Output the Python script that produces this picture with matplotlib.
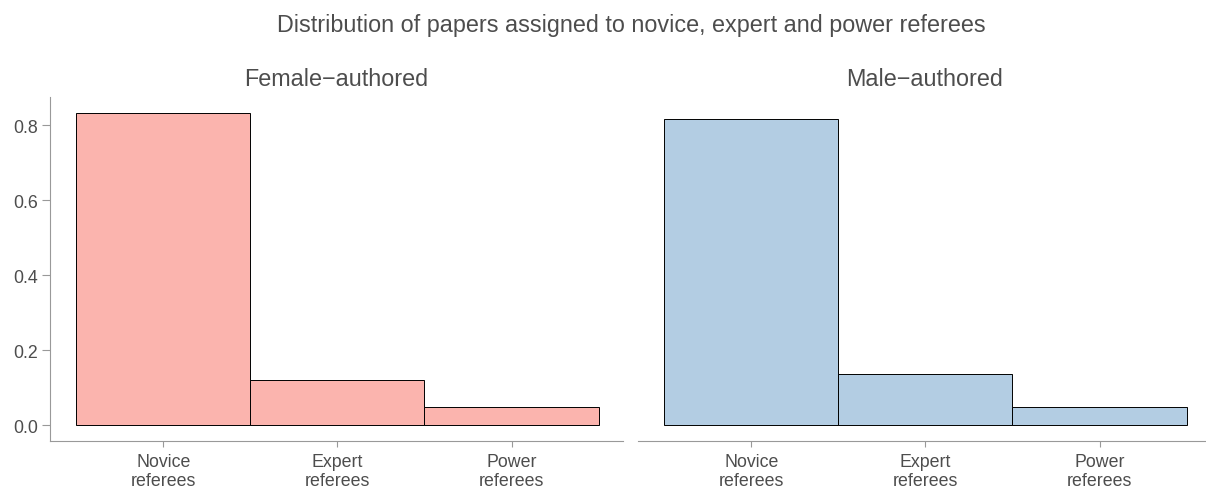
import matplotlib
matplotlib.use("Agg")
import matplotlib.pyplot as plt

plt.rcParams['font.family'] = ['Liberation Sans', 'DejaVu Sans']

categories = ["Novice\nreferees", "Expert\nreferees", "Power\nreferees"]
panels = ["Female\u2212authored", "Male\u2212authored"]
female_share = [0.832, 0.120, 0.048]
male_share = [0.816, 0.137, 0.047]
colors = ["#FBB4AE", "#B3CDE3"]
title = "Distribution of papers assigned to novice, expert and power referees"

text_col = "#4D4D4D"
axis_col = "#999999"

fig = plt.figure(figsize=(12.06, 4.89), dpi=100)
ax1 = fig.add_axes([50/1206, 1-441.7/489, 573/1206, (441.7-98.4)/489])
ax2 = fig.add_axes([638/1206, 1-441.7/489, 573/1206, (441.7-98.4)/489])

xs = [1, 2, 3]
for ax, vals, col, name in [(ax1, female_share, colors[0], panels[0]),
                            (ax2, male_share, colors[1], panels[1])]:
    ax.bar(xs, vals, width=1.0, color=col, edgecolor="black", linewidth=0.7)
    ax.set_xlim(0.35, 3.64)
    ax.set_ylim(-0.0416, 0.874)
    ax.set_xticks(xs)
    ax.set_xticklabels(categories, fontsize=12.8, color=text_col, linespacing=1.2)
    for s in ["top", "right"]:
        ax.spines[s].set_visible(False)
    ax.spines["bottom"].set_color(axis_col)
    ax.spines["left"].set_color(axis_col)
    ax.tick_params(axis="x", color=axis_col, length=4.5, width=0.8, pad=4)
    ax.tick_params(axis="y", color=axis_col, length=5.5, width=0.8, pad=3,
                   labelsize=12.8, labelcolor=text_col)
    ax.set_title(name, fontsize=16.8, color=text_col, pad=9)

ax1.set_yticks([0.0, 0.2, 0.4, 0.6, 0.8])
ax1.set_yticklabels(["0.0", "0.2", "0.4", "0.6", "0.8"])
ax2.spines["left"].set_visible(False)
ax2.set_yticks([])

fig.text(631.5/1206, 1-25.5/489, title, ha="center", va="center", fontsize=16.8, color=text_col)

fig.savefig("out.png", dpi=100)
